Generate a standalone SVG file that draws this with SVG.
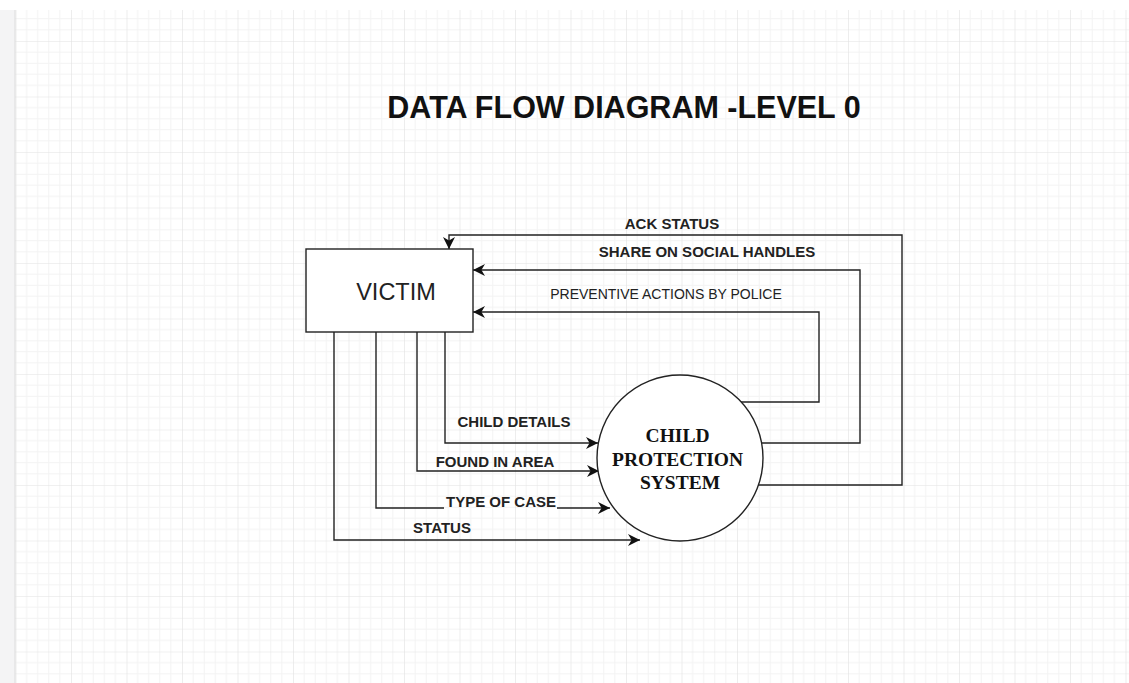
<svg xmlns="http://www.w3.org/2000/svg" width="1129" height="683" viewBox="0 0 1129 683">
<defs>
<pattern id="grid" patternUnits="userSpaceOnUse" x="15.5" y="41" width="55.5" height="55.5">
<path d="M11.1 0V55.5M22.2 0V55.5M33.3 0V55.5M44.4 0V55.5M0 11.1H55.5M0 22.2H55.5M0 33.3H55.5M0 44.4H55.5" stroke="#f3f3f3" stroke-width="1" fill="none"/>
<path d="M0 0V55.5M0 0H55.5" stroke="#e2e2e2" stroke-width="1.2" fill="none"/>
</pattern>
<marker id="arr" viewBox="0 0 10 10" refX="10" refY="5" markerWidth="12" markerHeight="12" markerUnits="userSpaceOnUse" orient="auto">
<path d="M0 0L10 5L0 10L3 5Z" fill="#111"/>
</marker>
<style>
.flow{fill:none;stroke:#222;stroke-width:1.4}
.lbl{font-family:"Liberation Sans",Arial,sans-serif;font-weight:bold;font-size:15px;fill:#222}
.lbl.reg{font-weight:normal;font-size:14px}
</style>
</defs>
<rect width="1129" height="683" fill="#ffffff"/>
<rect x="0" y="10" width="15" height="673" fill="#f4f4f5"/>
<rect x="15" y="10" width="1114" height="673" fill="url(#grid)"/>
<line x1="15" y1="10" x2="15" y2="683" stroke="#dcdcdc" stroke-width="1"/>

<text x="624" y="118" text-anchor="middle" font-family="Liberation Sans,Arial,sans-serif" font-weight="bold" font-size="30.5" fill="#111">DATA FLOW DIAGRAM -LEVEL 0</text>

<g id="connectors">
<polyline class="flow" points="758,485 902,485 902,235 449,235 449,249" marker-end="url(#arr)"/>
<polyline class="flow" points="762,443 860,443 860,270 473,270" marker-end="url(#arr)"/>
<polyline class="flow" points="741,402 819,402 819,312 473,312" marker-end="url(#arr)"/>
<polyline class="flow" points="445,332 445,443 598,443" marker-end="url(#arr)"/>
<polyline class="flow" points="417,332 417,471 599,471" marker-end="url(#arr)"/>
<polyline class="flow" points="376,332 376,508 444,508"/>
<polyline class="flow" points="557,508 610,508" marker-end="url(#arr)"/>
<polyline class="flow" points="334,332 334,540 640,540" marker-end="url(#arr)"/>
<text class="lbl" x="672" y="228.5" text-anchor="middle">ACK STATUS</text>
<text class="lbl" x="707" y="256.5" text-anchor="middle">SHARE ON SOCIAL HANDLES</text>
<text class="lbl reg" x="666" y="299" text-anchor="middle">PREVENTIVE ACTIONS BY POLICE</text>
<text class="lbl" x="514" y="427" text-anchor="middle">CHILD DETAILS</text>
<text class="lbl" x="495" y="466.5" text-anchor="middle">FOUND IN AREA</text>
<text class="lbl" x="501" y="506.5" text-anchor="middle">TYPE OF CASE</text>
<text class="lbl" x="442" y="532.5" text-anchor="middle">STATUS</text>
</g>

<g id="victim">
<rect x="306" y="249" width="167" height="83" fill="#ffffff" stroke="#222" stroke-width="1.4"/>
<text x="396" y="299.5" text-anchor="middle" font-family="Liberation Sans,Arial,sans-serif" font-size="23.5" fill="#222">VICTIM</text>
</g>

<g id="cps">
<circle cx="680" cy="458" r="83" fill="#ffffff" stroke="#222" stroke-width="1.4"/>
<text text-anchor="middle" font-family="Liberation Serif,Times New Roman,serif" font-weight="bold" font-size="19.5" fill="#111">
<tspan x="680" y="441.5">CHILD</tspan>
<tspan x="680" y="465.5">PROTECTION</tspan>
<tspan x="680" y="488.5">SYSTEM</tspan>
</text>
</g>
</svg>
